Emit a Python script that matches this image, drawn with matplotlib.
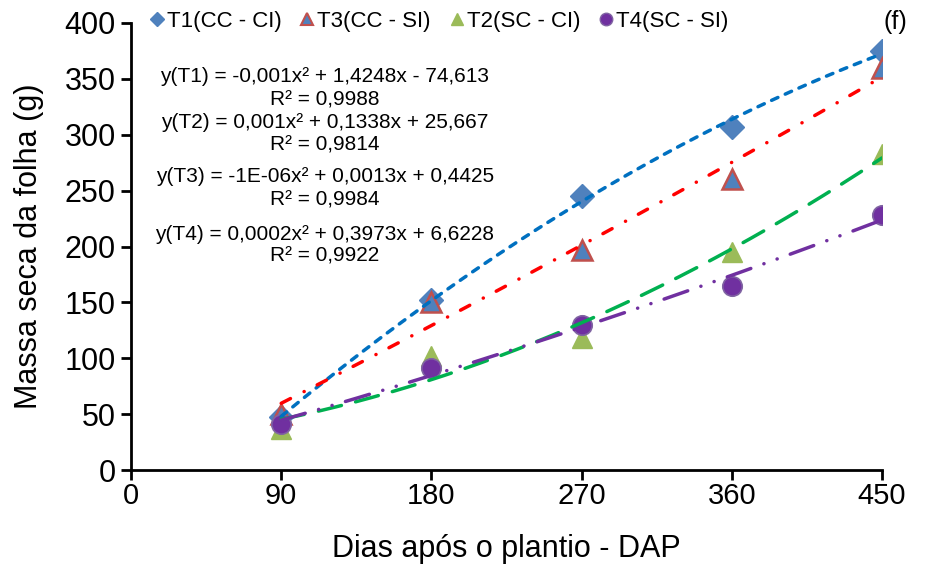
import numpy as np
import matplotlib
matplotlib.use("Agg")
import matplotlib.pyplot as plt
from matplotlib import font_manager
from matplotlib.lines import Line2D

# --- data -------------------------------------------------------------
dap = [90, 180, 270, 360, 450]
t1 = [47, 152, 245, 307, 375]
t3 = [50, 150, 197, 260, 360]
t2 = [37, 102, 118, 195, 283]
t4 = [41, 91, 130, 165, 228]

series_labels = ["T1(CC - CI)", "T3(CC - SI)", "T2(SC - CI)", "T4(SC - SI)"]
equations = [
    "y(T1) = -0,001x² + 1,4248x - 74,613", "R² = 0,9988",
    "y(T2) = 0,001x² + 0,1338x + 25,667", "R² = 0,9814",
    "y(T3) = -1E-06x² + 0,0013x + 0,4425", "R² = 0,9984",
    "y(T4) = 0,0002x² + 0,3973x + 6,6228", "R² = 0,9922",
]
x_ticks = [0, 90, 180, 270, 360, 450]
y_ticks = list(range(0, 401, 50))

# --- fonts ------------------------------------------------------------
names = {f.name for f in font_manager.fontManager.ttflist}
base = "Liberation Sans" if "Liberation Sans" in names else "DejaVu Sans"
plt.rcParams["font.family"] = [base, "DejaVu Sans"]
plt.rcParams["lines.scale_dashes"] = False

W, H = 928, 568
fig = plt.figure(figsize=(W / 100, H / 100), dpi=100)
ax = fig.add_axes([131 / W, 1 - 470 / H, (882 - 131) / W, (470 - 23) / H])

# markers
ax.plot(dap, t1, ls="none", marker="D", ms=12.5, mfc="#4F81BD", mec="#4F81BD", zorder=3)
ax.plot(dap, t3, ls="none", marker="^", ms=14, mfc="#4F81BD", mec="#C0504D", mew=1.8, zorder=3)
ax.plot(dap, t2, ls="none", marker="^", ms=14, mfc="#9BBB59", mec="#9BBB59", zorder=3)
ax.plot(dap, t4, ls="none", marker="o", ms=14, mfc="#7030A0", mec="#8064A2", mew=1.2, zorder=3)

# second-order trend lines fitted to each series
xx = np.linspace(dap[0], dap[-1], 300)
styles = [
    (t1, "#0070C0", (0, (5.0, 5.8))),
    (t3, "#FF0000", (0, (7.5, 11.0, 0.1, 10.5))),
    (t2, "#00B050", (0, (17.0, 10.5))),
    (t4, "#7030A0", (0, (18.0, 10.0, 0.1, 10.0, 0.1, 10.0))),
]
for ys, col, ls in styles:
    coef = np.polyfit(dap, ys, 2)
    ax.plot(xx, np.polyval(coef, xx), color=col, lw=2.5, ls=ls,
            dash_capstyle="round", solid_capstyle="round", zorder=4)

ax.set_xlim(0, 450)
ax.set_ylim(0, 400)
ax.set_xticks(x_ticks)
ax.set_yticks(y_ticks)
for s in ("top", "right"):
    ax.spines[s].set_visible(False)
for s in ("left", "bottom"):
    ax.spines[s].set_linewidth(2)
ax.tick_params(direction="out", length=7, width=2, pad=4)
ax.tick_params(axis="y", labelsize=22)
ax.tick_params(axis="x", labelsize=21, pad=2)
ax.set_xlabel("Dias após o plantio - DAP", fontsize=22, labelpad=17)
ax.set_ylabel("Massa seca da folha (g)", fontsize=22, labelpad=15)

# legend along the top
handles = [
    Line2D([], [], ls="none", marker="D", ms=7, mfc="#4F81BD", mec="#4F81BD"),
    Line2D([], [], ls="none", marker="^", ms=9, mfc="#4F81BD", mec="#C0504D", mew=1.5),
    Line2D([], [], ls="none", marker="^", ms=9, mfc="#9BBB59", mec="#9BBB59"),
    Line2D([], [], ls="none", marker="o", ms=9, mfc="#7030A0", mec="#8064A2"),
]
fig.legend(handles, series_labels, loc="center left", bbox_to_anchor=(151 / W, 1 - 21 / H),
           ncol=4, frameon=False, fontsize=16, handlelength=0.5, handletextpad=0.2,
           columnspacing=0.92, borderpad=0, borderaxespad=0)

fig.text(895 / W, 1 - 22 / H, "(f)", fontsize=18, ha="center", va="center")

# regression equations
eq_y = [77, 100, 123, 145, 177, 200, 234, 256]
for txt, yp in zip(equations, eq_y):
    fig.text(325 / W, 1 - yp / H, txt, fontsize=15, ha="center", va="center")

fig.savefig("out.png", dpi=100)
